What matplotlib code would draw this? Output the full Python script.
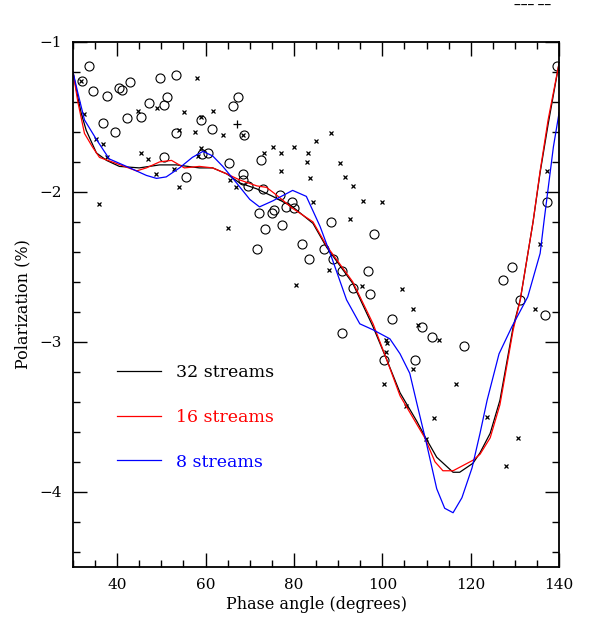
import matplotlib

matplotlib.use("Agg")
from matplotlib import pyplot as plt
from matplotlib.ticker import MultipleLocator

# observed points (phase angle, polarization)
circle_phase = [33.7, 32.1, 34.6, 37.8, 40.3, 41.2, 43.0, 49.6, 53.4, 51.2, 50.7, 47.1,
                36.7, 39.4, 42.3, 45.3, 53.4, 50.7, 55.5, 67.3, 66.3, 58.9, 61.4, 68.6,
                60.5, 59.3, 65.2, 72.5, 68.4, 68.4, 69.5, 73.1, 76.8, 79.5, 80.0, 78.1,
                75.4, 75.0, 72.0, 77.2, 73.4, 71.6, 81.8, 83.3, 86.9, 88.3, 98.0, 88.8,
                90.8, 96.7, 93.3, 97.2, 102.2, 108.9, 111.2, 90.8, 100.3, 107.4, 118.5,
                127.3, 129.4, 131.2, 136.8, 137.3, 139.6]
circle_pol = [-1.16, -1.26, -1.33, -1.36, -1.31, -1.32, -1.27, -1.24, -1.22, -1.37, -1.42, -1.41,
              -1.54, -1.60, -1.51, -1.50, -1.61, -1.77, -1.90, -1.37, -1.43, -1.52, -1.58, -1.62,
              -1.74, -1.75, -1.81, -1.79, -1.88, -1.92, -1.96, -1.98, -2.02, -2.07, -2.11, -2.10,
              -2.12, -2.14, -2.14, -2.22, -2.25, -2.38, -2.35, -2.45, -2.38, -2.20, -2.28, -2.45,
              -2.53, -2.53, -2.64, -2.68, -2.85, -2.90, -2.97, -2.94, -3.12, -3.12, -3.03,
              -2.59, -2.50, -2.72, -2.82, -2.07, -1.16]

cross_phase = [31.9, 32.4, 35.1, 36.7, 37.8, 44.6, 48.9, 55.2, 58.0, 57.7, 53.9, 45.3,
               46.9, 48.7, 52.8, 54.1, 35.8, 61.6, 58.9, 63.9, 68.4, 58.9, 58.2, 73.2,
               75.2, 77.0, 80.0, 83.1, 82.9, 84.9, 88.3, 77.0, 83.6, 66.8, 65.5, 84.3,
               65.0, 80.4, 90.4, 91.5, 93.3, 95.6, 99.9, 92.7, 87.9, 95.4, 104.4, 106.9,
               108.1, 112.8, 100.8, 101.0, 100.8, 106.9, 100.3, 116.6, 105.3, 111.7, 109.9,
               123.7, 130.7, 128.0, 135.7, 134.6, 137.3]
cross_pol = [-1.26, -1.48, -1.65, -1.68, -1.77, -1.46, -1.44, -1.47, -1.24, -1.60, -1.59, -1.74,
             -1.78, -1.88, -1.85, -1.97, -2.08, -1.46, -1.50, -1.62, -1.62, -1.71, -1.76, -1.74,
             -1.70, -1.74, -1.70, -1.74, -1.80, -1.66, -1.61, -1.86, -1.91, -1.97, -1.92, -2.07,
             -2.24, -2.62, -1.81, -1.90, -1.96, -2.06, -2.07, -2.18, -2.52, -2.63, -2.65, -2.78,
             -2.89, -2.99, -2.99, -3.01, -3.07, -3.18, -3.28, -3.28, -3.43, -3.51, -3.65,
             -3.50, -3.64, -3.83, -2.35, -2.78, -1.86]

plus_phase = [67.0]
plus_pol = [-1.55]

# model curves
phase_32 = [30, 31.1, 31.9, 33, 35.3, 37.6, 40.5, 45, 49.6, 53.4, 58.6, 61.6, 64.8, 67.7,
            71.6, 75.2, 79.7, 84.3, 87.4, 93.3, 97.9, 101, 104, 107.8, 109.6, 112.3, 116,
            117.5, 120.5, 122.1, 124.4, 126.6, 129.6, 131.2, 134.1, 135.7, 137.5, 140]
pol_32 = [-1.2, -1.37, -1.48, -1.59, -1.74, -1.79, -1.83, -1.84, -1.82, -1.82, -1.84, -1.84,
          -1.88, -1.94, -1.98, -2.03, -2.10, -2.21, -2.37, -2.61, -2.90, -3.12, -3.34, -3.53,
          -3.63, -3.77, -3.87, -3.87, -3.81, -3.74, -3.61, -3.39, -2.90, -2.72, -2.20, -1.87,
          -1.55, -1.14]

phase_16 = [30, 31.1, 32.6, 34.4, 36, 39.8, 44.4, 46.6, 49.6, 52.3, 55.2, 58.6, 61.6, 64.8,
            67.7, 71.6, 73.8, 76, 79.7, 84.3, 87.4, 93.3, 97.9, 101, 104, 107.8, 109.6,
            111.9, 113.7, 116, 120.5, 122.1, 124.4, 126.6, 129.6, 131.2, 134.1, 135.7,
            137.5, 140]
pol_16 = [-1.2, -1.40, -1.61, -1.70, -1.77, -1.81, -1.86, -1.84, -1.80, -1.79, -1.84, -1.83,
          -1.84, -1.88, -1.92, -1.96, -1.97, -2.02, -2.11, -2.20, -2.36, -2.60, -2.88, -3.12,
          -3.36, -3.55, -3.64, -3.80, -3.86, -3.86, -3.79, -3.75, -3.64, -3.42, -2.92, -2.72,
          -2.20, -1.86, -1.52, -1.14]

phase_8 = [30, 31.1, 32.6, 35.3, 38.2, 42.1, 46.6, 48.9, 51.1, 54.1, 57, 59.4, 61.6, 63.9,
           67, 70, 72.2, 75.2, 79.7, 82.8, 85.9, 88.8, 91.9, 94.9, 97.9, 101.7, 104, 106.2,
           107.8, 110, 112.3, 114.1, 116, 118, 120.3, 122.1, 123.7, 126.4, 129.3, 132.9,
           135.7, 136.6, 138.7, 140]
pol_8 = [-1.2, -1.34, -1.52, -1.65, -1.78, -1.83, -1.89, -1.91, -1.90, -1.84, -1.77, -1.73,
         -1.76, -1.83, -1.94, -2.05, -2.10, -2.06, -1.99, -2.03, -2.23, -2.46, -2.72, -2.88,
         -2.92, -2.98, -3.08, -3.21, -3.41, -3.68, -3.98, -4.11, -4.14, -4.04, -3.84, -3.61,
         -3.39, -3.08, -2.90, -2.70, -2.41, -2.19, -1.70, -1.47]

plt.rcParams["font.family"] = ["DejaVu Serif"]
plt.rcParams["axes.unicode_minus"] = True

fig = plt.figure(figsize=(5.9, 6.17), dpi=100)
ax = fig.add_axes([0.1237, 0.0815, 0.824, 0.8505])

ax.plot(circle_phase, circle_pol, "o", ms=6.5, mfc="none", mec="black", mew=0.8, ls="none")
ax.plot(cross_phase, cross_pol, "x", ms=3.5, color="black", mew=0.9, ls="none")
ax.plot(plus_phase, plus_pol, "+", ms=6, color="black", mew=0.9, ls="none")

ax.plot(phase_32, pol_32, color="black", lw=0.9, label="32 streams")
ax.plot(phase_16, pol_16, color="red", lw=0.9, label="16 streams")
ax.plot(phase_8, pol_8, color="blue", lw=0.9, label="8 streams")

ax.set_xlim(30, 140)
ax.set_ylim(-4.5, -1)
ax.xaxis.set_major_locator(MultipleLocator(20))
ax.xaxis.set_minor_locator(MultipleLocator(5))
ax.yaxis.set_major_locator(MultipleLocator(1))
ax.yaxis.set_minor_locator(MultipleLocator(0.2))
ax.tick_params(which="both", direction="in", top=True, right=True, width=1.0,
               labelsize=11, pad=8)
ax.tick_params(which="major", length=10)
ax.tick_params(which="minor", length=5)
for side in ax.spines.values():
    side.set_linewidth(1.3)

ax.set_xlabel("Phase angle (degrees)", fontsize=11.5, labelpad=3)
ax.set_ylabel("Polarization (%)", fontsize=11.5, labelpad=6)

ax.legend(loc="upper left", bbox_to_anchor=(0.09, 0.387), frameon=False, fontsize=12.5,
          handlelength=2.53, handletextpad=0.86, labelspacing=1.61, borderpad=0,
          borderaxespad=0, labelcolor="linecolor")

fig.text(0.872, 0.988, "\u2012\u2012\u2012 \u2012\u2012", fontsize=7, fontweight="bold")

plt.savefig("out.png", dpi=100)
